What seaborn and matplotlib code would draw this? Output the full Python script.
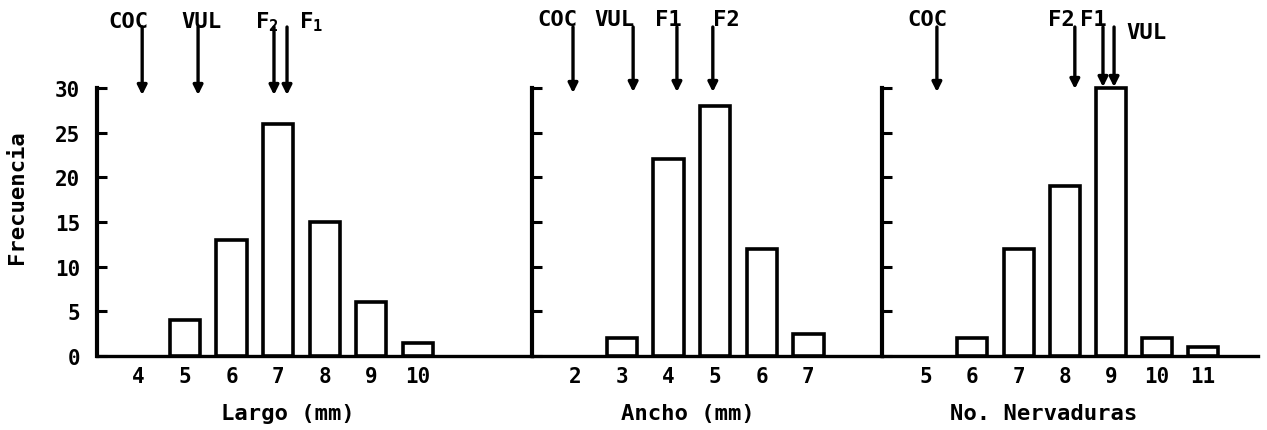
import matplotlib
matplotlib.use("Agg")
import matplotlib.pyplot as plt
import seaborn as sns

# Frequency tables for the three leaf measurements
largo_x = [4, 5, 6, 7, 8, 9, 10]
largo_freq = [0, 4, 13, 26, 15, 6, 1.5]

ancho_x = [2, 3, 4, 5, 6, 7]
ancho_freq = [0, 2, 22, 28, 12, 2.5]

nerv_x = [5, 6, 7, 8, 9, 10, 11]
nerv_freq = [0, 2, 12, 19, 30, 2, 1]

# Mean values of each group, marked with arrows above the histograms
largo_groups = ["COC", "VUL", "F$_2$", "F$_1$"]
largo_means = [4.08, 5.28, 6.91, 7.19]

ancho_groups = ["COC", "VUL", "F1", "F2"]
ancho_means = [1.95, 3.24, 4.18, 4.95]

nerv_groups = ["COC", "F2", "F1", "VUL"]
nerv_means = [5.23, 8.22, 8.83, 9.07]

y_ticks = [0, 5, 10, 15, 20, 25, 30]

sns.set_theme(style="white")
plt.rcParams["font.family"] = ["DejaVu Sans Mono", "DejaVu Sans"]
plt.rcParams["font.weight"] = "bold"
plt.rcParams["text.color"] = "black"
plt.rcParams["axes.labelcolor"] = "black"
plt.rcParams["xtick.color"] = "black"
plt.rcParams["ytick.color"] = "black"
plt.rcParams["mathtext.fontset"] = "custom"
plt.rcParams["mathtext.rm"] = "DejaVu Sans Mono:bold"
plt.rcParams["mathtext.default"] = "rm"

W, H = 1267, 431
fig = plt.figure(figsize=(W / 100, H / 100), dpi=100)

base_px, top_px = 357, 89


def make_axes(x0, x1):
    return fig.add_axes([x0 / W, (H - base_px) / H, (x1 - x0) / W, (base_px - top_px) / H])


panels = [
    dict(ax=make_axes(97, 532), x=largo_x, y=largo_freq, xlim=(3.11, 12.45),
         groups=largo_groups, means=largo_means, xlabel="Largo (mm)", xl=0.439,
         label_dx=[-14, 3, -7, 24], label_y=[22, 22, 22, 22], tip=[96, 96, 96, 96]),
    dict(ax=make_axes(532, 882), x=ancho_x, y=ancho_freq, xlim=(1.07, 8.58),
         groups=ancho_groups, means=ancho_means, xlabel="Ancho (mm)", xl=0.446,
         label_dx=[-16, -19, -9, 14], label_y=[20, 20, 20, 20], tip=[94, 93, 93, 93]),
    dict(ax=make_axes(882, 1258), x=nerv_x, y=nerv_freq, xlim=(4.04, 12.19),
         groups=nerv_groups, means=nerv_means, xlabel="No. Nervaduras", xl=0.431,
         label_dx=[-9, -13, -10, 32], label_y=[20, 20, 20, 33], tip=[93, 90, 88, 88]),
]

for i, p in enumerate(panels):
    ax = p["ax"]
    sns.barplot(x=p["x"], y=p["y"], native_scale=True, width=0.65, color="white",
                saturation=1, edgecolor="black", linewidth=2.6, errorbar=None, ax=ax)
    for patch in ax.patches:
        patch.set_clip_on(False)
        patch.set_zorder(3)
        # empty classes get no box
        if patch.get_height() == 0:
            patch.set_visible(False)

    ax.set_xlim(*p["xlim"])
    ax.set_ylim(0, 30)
    ax.set_xticks(p["x"])
    ax.set_xticklabels([str(v) for v in p["x"]], fontsize=15, fontweight="bold")
    ax.set_yticks(y_ticks)
    ax.tick_params(axis="x", length=0, pad=7)
    ax.tick_params(axis="y", direction="in", length=7, width=2.2, color="black",
                   pad=12, labelsize=15, left=True, labelleft=(i == 0))
    for lab in ax.get_yticklabels():
        lab.set_fontweight("bold")

    for side in ("top", "right"):
        ax.spines[side].set_visible(False)
    for side in ("left", "bottom"):
        ax.spines[side].set_visible(True)
        ax.spines[side].set_color("black")
    ax.spines["left"].set_linewidth(3)
    ax.spines["bottom"].set_linewidth(2.4)
    ax.set_facecolor("none")

    ax.set_xlabel(p["xlabel"], fontsize=16, fontweight="bold", va="center")
    ax.xaxis.set_label_coords(p["xl"], (base_px - 414) / (base_px - top_px))
    ax.set_ylabel("Frecuencia" if i == 0 else "", fontsize=16, fontweight="bold",
                  va="center")
    if i == 0:
        ax.yaxis.set_label_coords((17 - 97) / 435, (base_px - 197) / (base_px - top_px))

    span = base_px - top_px
    for name, m, dx, ly, tip in zip(p["groups"], p["means"], p["label_dx"],
                                    p["label_y"], p["tip"]):
        ax.annotate("", xy=(m, (base_px - tip) / span),
                    xytext=(m, (base_px - 28) / span),
                    xycoords=("data", "axes fraction"),
                    textcoords=("data", "axes fraction"),
                    annotation_clip=False,
                    arrowprops=dict(arrowstyle="-|>", color="black", lw=2.4,
                                    mutation_scale=14, shrinkA=0, shrinkB=0))
        ax.annotate(name, xy=(m, (base_px - ly) / span),
                    xycoords=("data", "axes fraction"),
                    xytext=(dx, 0), textcoords="offset pixels",
                    ha="center", va="center", fontsize=16, fontweight="bold",
                    annotation_clip=False)

fig.savefig("out.png", dpi=100, facecolor="white")
